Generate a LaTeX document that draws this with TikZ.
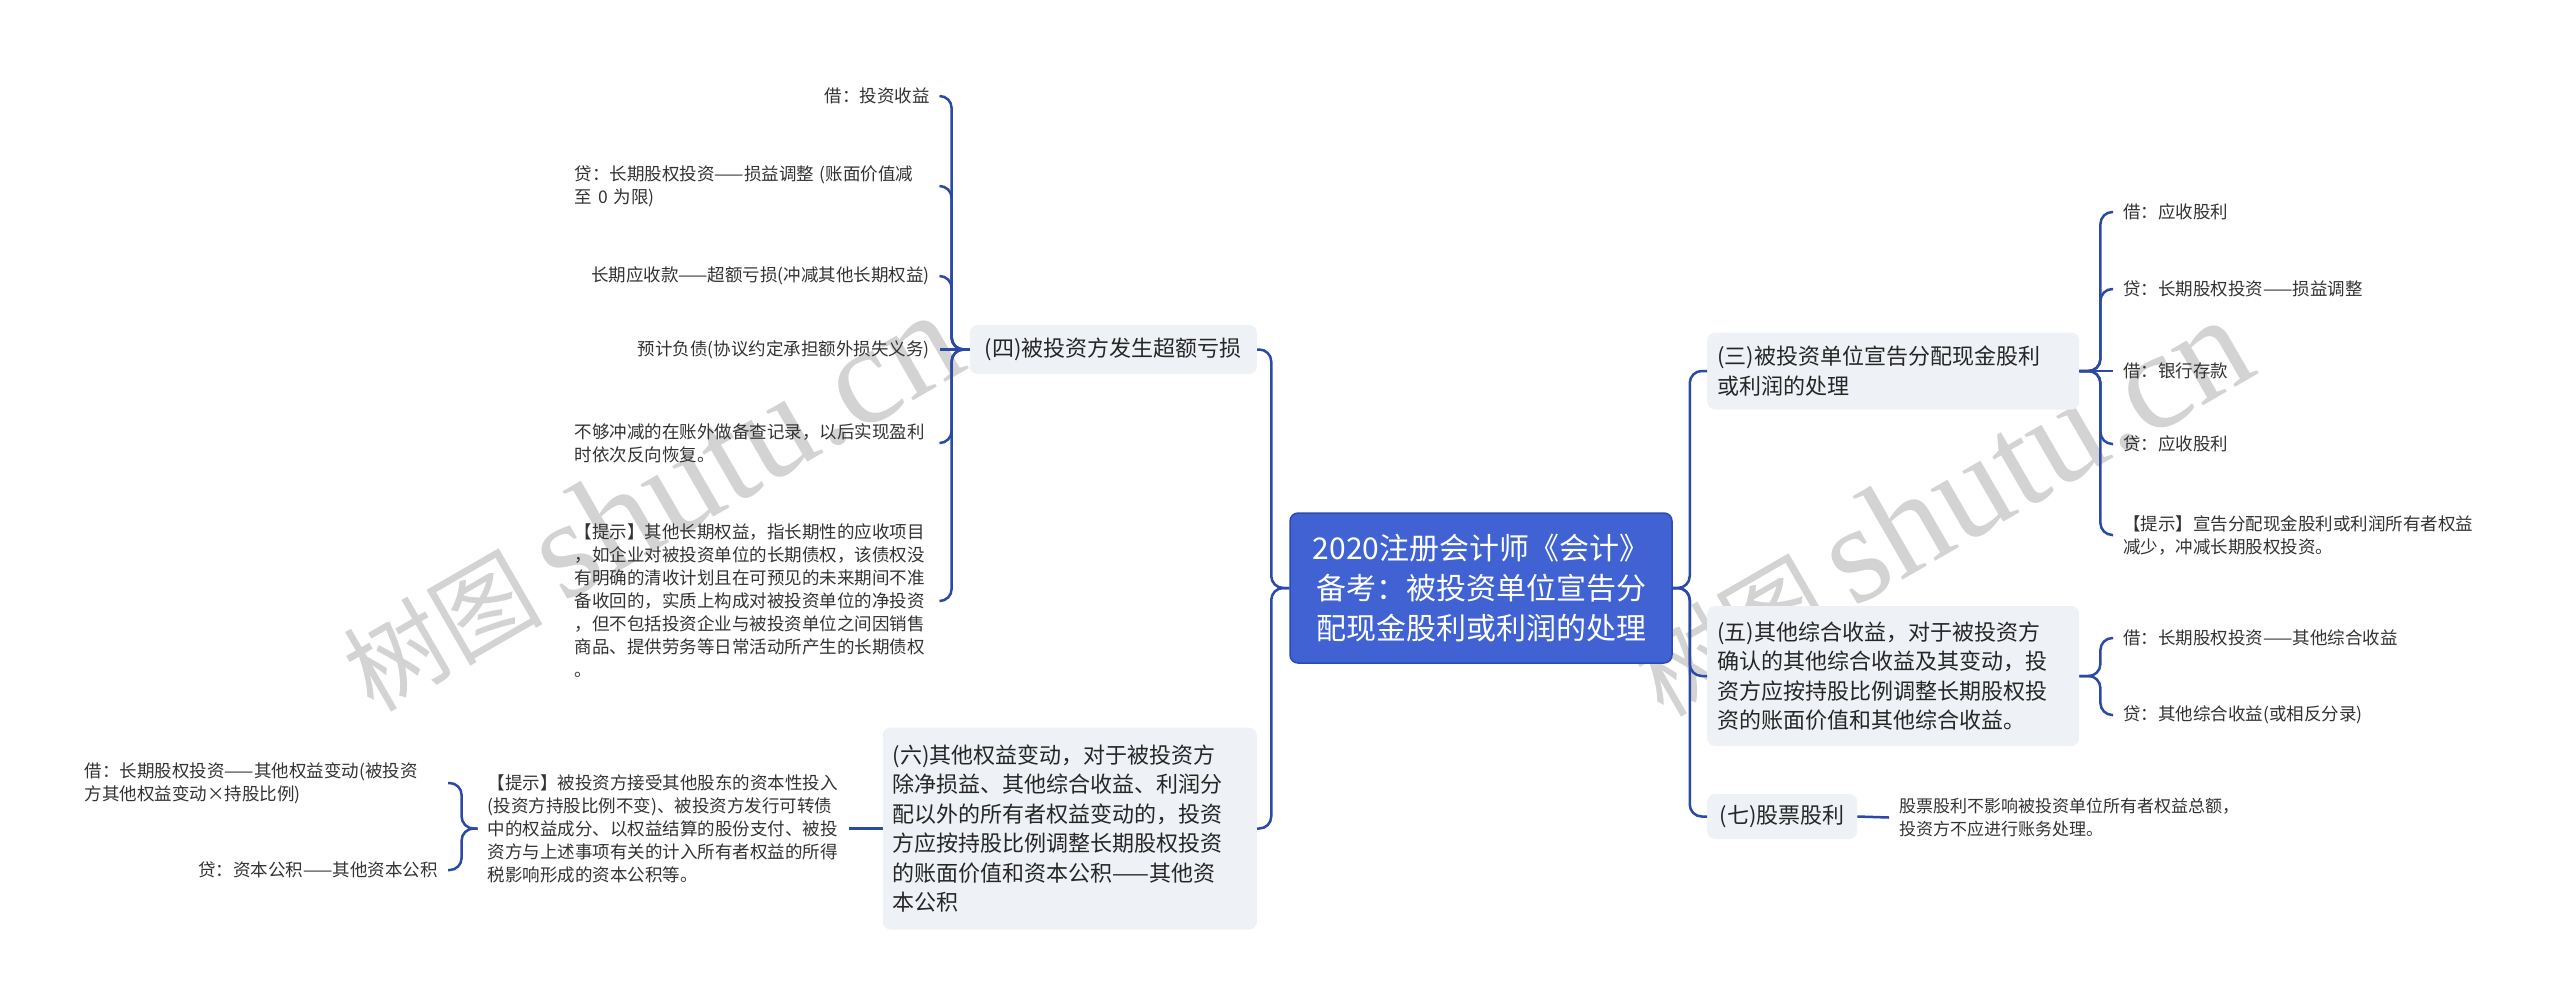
\documentclass[tikz,border=0pt]{standalone}
\usepackage{fontspec}
\setmainfont{Noto Sans CJK SC}
\newfontfamily\wmlatin{Liberation Serif}
\definecolor{rootblue}{RGB}{64,98,210}
\definecolor{rootedge}{RGB}{45,75,175}
\definecolor{linkblue}{RGB}{43,74,166}
\definecolor{branchfill}{RGB}{238,241,245}
\definecolor{leaftext}{RGB}{51,51,51}
\definecolor{branchtext}{RGB}{38,38,38}
\definecolor{wmgray}{RGB}{200,200,200}
\begin{document}
\begin{tikzpicture}[x=1pt,y=-1pt,
  conn/.style={draw=linkblue, line width=2.5pt, rounded corners=12pt},
  leaf/.style={inner xsep=10pt, inner ysep=0pt, text=leaftext, font=\fontsize{17.5}{23}\selectfont, align=left},
  branch/.style={fill=branchfill, rounded corners=8pt, text=branchtext, font=\fontsize{22}{29.5}\selectfont, inner xsep=10pt, inner ysep=0pt},
  rootbox/.style={fill=rootblue, draw=rootedge, line width=1.5pt, rounded corners=8pt, text=white, font=\fontsize{30}{40}\selectfont, align=center, minimum width=382pt, minimum height=150pt},
  wm/.style={text=wmgray, opacity=0.8, rotate=30, inner sep=0pt}
]
\useasboundingbox (0,0) rectangle (2560,1005);
\fill[white] (0,0) rectangle (2560,1005);

% watermarks
\node[wm] (wmleft) at (650,502) {\fontsize{100}{100}\selectfont 树图\hspace{20pt}{\wmlatin\fontsize{140}{140}\selectfont shutu.cn}};
\node[wm] (wmright) at (1940,507) {\fontsize{100}{100}\selectfont 树图\hspace{20pt}{\wmlatin\fontsize{140}{140}\selectfont shutu.cn}};

% root
\node[rootbox] (root) at (1481,588) {2020注册会计师《会计》\\备考：被投资单位宣告分\\配现金股利或利润的处理};

% branches
\node[branch, anchor=east, minimum width=287pt, minimum height=49pt] (b4) at (1257,349.5) {(四)被投资方发生超额亏损};
\node[branch, anchor=east, text width=354pt, align=left, minimum height=202pt] (b6) at (1257,828.5) {(六)其他权益变动，对于被投资方\\除净损益、其他综合收益、利润分\\配以外的所有者权益变动的，投资\\方应按持股比例调整长期股权投资\\的账面价值和资本公积——其他资\\本公积};
\node[branch, anchor=west, text width=352pt, align=left, minimum height=77pt] (b3) at (1707,371) {(三)被投资单位宣告分配现金股利\\或利润的处理};
\node[branch, anchor=west, text width=352pt, align=left, minimum height=140pt] (b5) at (1707,676) {(五)其他综合收益，对于被投资方\\确认的其他综合收益及其变动，投\\资方应按持股比例调整长期股权投\\资的账面价值和其他综合收益。};
\node[branch, anchor=west, minimum width=150pt, minimum height=45pt] (b7) at (1707,816.5) {(七)股票股利};

% leaves of (四)
\node[leaf, anchor=east] (l1) at (940,96) {借：投资收益};
\node[leaf, anchor=east, text width=355pt] (l2) at (940,186) {贷：长期股权投资——损益调整 (账面价值减\\至 0 为限)};
\node[leaf, anchor=east] (l3) at (940,276) {长期应收款——超额亏损(冲减其他长期权益)};
\node[leaf, anchor=east] (l4) at (940,349.5) {预计负债(协议约定承担额外损失义务)};
\node[leaf, anchor=east, text width=355pt] (l5) at (940,443) {不够冲减的在账外做备查记录，以后实现盈利\\时依次反向恢复。};
\node[leaf, anchor=east, text width=355pt] (l6) at (940,601) {【提示】其他长期权益，指长期性的应收项目\\，如企业对被投资单位的长期债权，该债权没\\有明确的清收计划且在可预见的未来期间不准\\备收回的，实质上构成对被投资单位的净投资\\，但不包括投资企业与被投资单位之间因销售\\商品、提供劳务等日常活动所产生的长期债权\\。};

% (六) note and its leaves
\node[leaf, anchor=east, text width=351pt] (n) at (849,828.5) {【提示】被投资方接受其他股东的资本性投入\\(投资方持股比例不变)、被投资方发行可转债\\中的权益成分、以权益结算的股份支付、被投\\资方与上述事项有关的计入所有者权益的所得\\税影响形成的资本公积等。};
\node[leaf, anchor=east, text width=353pt] (n1) at (448,783) {借：长期股权投资——其他权益变动(被投资\\方其他权益变动×持股比例)};
\node[leaf, anchor=east, text width=353pt, align=right] (n2) at (448,870) {贷：资本公积——其他资本公积};

% leaves of (三)
\node[leaf, anchor=west] (r1) at (2113,212) {借：应收股利};
\node[leaf, anchor=west] (r2) at (2113,289) {贷：长期股权投资——损益调整};
\node[leaf, anchor=west] (r3) at (2113,371) {借：银行存款};
\node[leaf, anchor=west] (r4) at (2113,444) {贷：应收股利};
\node[leaf, anchor=west] (r5) at (2113,535) {【提示】宣告分配现金股利或利润所有者权益\\减少，冲减长期股权投资。};

% leaves of (五)
\node[leaf, anchor=west] (r6) at (2113,638) {借：长期股权投资——其他综合收益};
\node[leaf, anchor=west] (r7) at (2113,715) {贷：其他综合收益(或相反分录)};

% leaf of (七)
\node[leaf, anchor=west, font=\fontsize{17}{22.5}\selectfont] (r8) at (1889,817.5) {股票股利不影响被投资单位所有者权益总额，\\投资方不应进行账务处理。};

% connectors root -> branches
\draw[conn] (root.west) -- ++(-18,0) |- (b4.east);
\draw[conn] (root.west) -- ++(-18,0) |- (b6.east);
\draw[conn] (root.east) -- ++(17,0) |- (b3.west);
\draw[conn] (root.east) -- ++(17,0) |- (b5.west);
\draw[conn] (root.east) -- ++(17,0) |- (b7.west);

% (四) -> leaves
\draw[conn] (b4.west) -- ++(-18,0) |- (l1.east);
\draw[conn] (b4.west) -- ++(-18,0) |- (l2.east);
\draw[conn] (b4.west) -- ++(-18,0) |- (l3.east);
\draw[conn] (b4.west) -- (l4.east);
\draw[conn] (b4.west) -- ++(-18,0) |- (l5.east);
\draw[conn] (b4.west) -- ++(-18,0) |- (l6.east);

% (六) -> note -> leaves
\draw[conn] (b6.west) -- (n.east);
\draw[conn] (n.west) -- ++(-16,0) |- (n1.east);
\draw[conn] (n.west) -- ++(-16,0) |- (n2.east);

% (三) -> leaves
\draw[conn] (b3.east) -- ++(21,0) |- (r1.west);
\draw[conn] (b3.east) -- ++(21,0) |- (r2.west);
\draw[conn] (b3.east) -- (r3.west);
\draw[conn] (b3.east) -- ++(21,0) |- (r4.west);
\draw[conn] (b3.east) -- ++(21,0) |- (r5.west);

% (五) -> leaves
\draw[conn] (b5.east) -- ++(21,0) |- (r6.west);
\draw[conn] (b5.east) -- ++(21,0) |- (r7.west);

% (七) -> leaf
\draw[conn] (b7.east) -- (r8.west);
\end{tikzpicture}
\end{document}
